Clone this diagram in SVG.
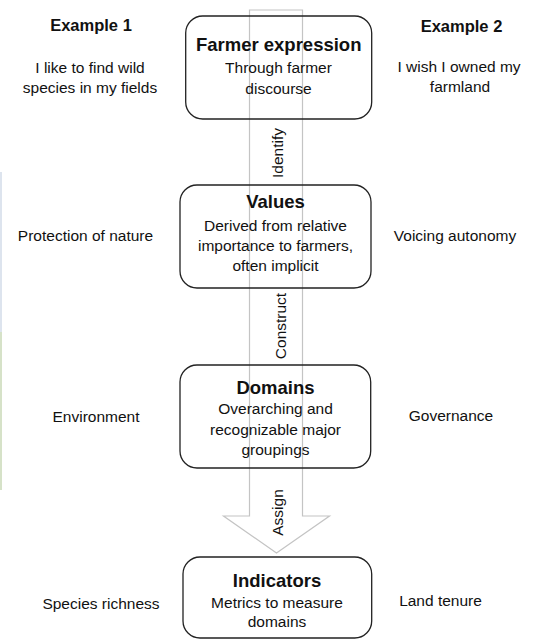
<svg xmlns="http://www.w3.org/2000/svg" width="533" height="641" viewBox="0 0 533 641">
<style>
text{font-family:"Liberation Sans",Arial,sans-serif;fill:#111;text-anchor:middle}
.t{font-size:18.5px;font-weight:bold}
.h{font-size:16.5px;font-weight:bold}
.b{font-size:15.5px}
.box{fill:none;stroke:#222;stroke-width:1.3}
.arrow{fill:none;stroke:#c4c4c4;stroke-width:1.2}
</style>
<rect x="0" y="172" width="2" height="160" fill="#dde4ee"/>
<rect x="0" y="332" width="2" height="158" fill="#d6e2c8"/>
<g id="connectors">
<path class="arrow" d="M249.5,10 L302.5,10 L302.5,516 L329.5,516 L276.5,553 L223.5,516 L249.5,516 Z"/>
<text class="b" transform="translate(283,153) rotate(-90)">Identify</text>
<text class="b" transform="translate(286,326) rotate(-90)">Construct</text>
<text class="b" transform="translate(283,512.5) rotate(-90)">Assign</text>
</g>
<g id="example1">
<text class="h" x="91" y="30.7">Example 1</text>
<text class="b" x="90" y="73">I like to find wild</text>
<text class="b" x="90" y="93">species in my fields</text>
<text class="b" x="85.5" y="240.7">Protection of nature</text>
<text class="b" x="96" y="422">Environment</text>
<text class="b" x="101" y="609">Species richness</text>
</g>
<g id="example2">
<text class="h" x="461.5" y="31.5">Example 2</text>
<text class="b" x="459" y="71.5">I wish I owned my</text>
<text class="b" x="460" y="92">farmland</text>
<text class="b" x="455" y="240.7">Voicing autonomy</text>
<text class="b" x="451" y="421">Governance</text>
<text class="b" x="440.5" y="606">Land tenure</text>
</g>
<g id="farmer-expression">
<rect class="box" x="185.7" y="16" width="186" height="103" rx="17"/>
<text class="t" x="278.7" y="50.7">Farmer expression</text>
<text class="b" x="278.5" y="73">Through farmer</text>
<text class="b" x="278.5" y="93.5">discourse</text>
</g>
<g id="values">
<rect class="box" x="180" y="185" width="191" height="103" rx="17"/>
<text class="t" x="275.5" y="208.3">Values</text>
<text class="b" x="275.5" y="230.5">Derived from relative</text>
<text class="b" x="275.5" y="251">importance to farmers,</text>
<text class="b" x="275.5" y="271">often implicit</text>
</g>
<g id="domains">
<rect class="box" x="180" y="365" width="190.7" height="103" rx="17"/>
<text class="t" x="275.5" y="393.5">Domains</text>
<text class="b" x="275.5" y="414">Overarching and</text>
<text class="b" x="275.5" y="434.5">recognizable major</text>
<text class="b" x="275.5" y="454.5">groupings</text>
</g>
<g id="indicators">
<rect class="box" x="183" y="557" width="188.7" height="81" rx="17"/>
<text class="t" x="277" y="586.7">Indicators</text>
<text class="b" x="277" y="607.7">Metrics to measure</text>
<text class="b" x="277" y="627">domains</text>
</g>
</svg>
